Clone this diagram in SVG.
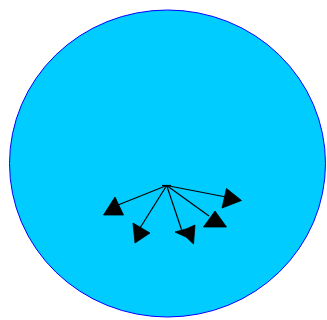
<svg xmlns="http://www.w3.org/2000/svg" width="327" height="320" viewBox="0 0 327 320">
<style>
.edge{stroke:#000;stroke-width:1.2;fill:none}
.head{fill:#000;stroke:#000;stroke-width:0.8;stroke-linejoin:round}
</style>
<rect width="327" height="320" fill="#fff"/>
<g id="circle">
<ellipse cx="167.5" cy="163.5" rx="158" ry="153.5" fill="#00CCFF" stroke="#0000FF" stroke-width="1"/>
</g>
<g id="connectors">
<line class="edge" x1="166.7" y1="185.5" x2="118" y2="205"/>
<line class="edge" x1="166.7" y1="185.5" x2="140" y2="228"/>
<line class="edge" x1="166.7" y1="185.5" x2="182" y2="231"/>
<line class="edge" x1="166.7" y1="185.5" x2="209" y2="216"/>
<line class="edge" x1="166.7" y1="185.5" x2="226" y2="197"/>
<line class="edge" x1="162" y1="185.5" x2="171" y2="185.5"/>
<polygon class="head" points="115,197 103.5,215 123.5,215"/>
<polygon class="head" points="133,223 135,243 150,233"/>
<polygon class="head" points="175,232 186,229 195,225 193.5,244 186,237"/>
<polygon class="head" points="215,211 203.5,227 226.5,227"/>
<polygon class="head" points="226.5,188.5 222,208 241.5,200.5"/>
</g>
</svg>
